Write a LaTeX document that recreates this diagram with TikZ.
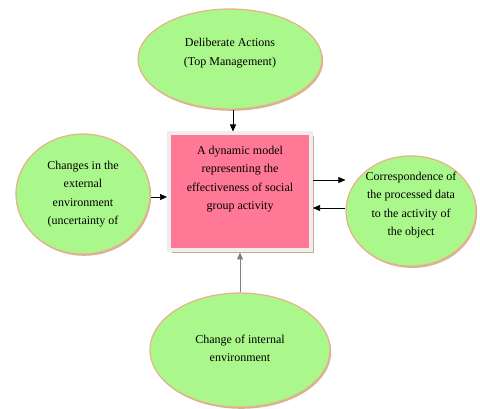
\documentclass[tikz,border=0pt]{standalone}
\usepackage{fontspec}
\setmainfont{Liberation Serif}
\usetikzlibrary{arrows.meta,positioning,shapes.geometric,shadows}
\definecolor{verde}{RGB}{170,248,140}
\definecolor{borde}{RGB}{232,178,138}
\definecolor{sombra}{RGB}{200,160,120}
\definecolor{rosa}{RGB}{255,120,150}
\definecolor{marco}{RGB}{238,238,238}

\begin{document}
\begin{tikzpicture}[x=1pt,y=-1pt,
  elipse/.style={ellipse, draw=borde, line width=1.2pt, fill=verde, align=center, inner sep=0pt,
    font=\fontsize{12}{18.5}\selectfont,
    drop shadow={shadow xshift=1.2pt, shadow yshift=-1.8pt, fill=sombra, opacity=0.8}},
  modelo/.style={rectangle, draw=marco, line width=4pt, fill=rosa, align=center,
    minimum width=142pt, minimum height=117pt, font=\fontsize{12}{18.5}\selectfont,
    drop shadow={shadow xshift=2.5pt, shadow yshift=-2.5pt, fill=sombra, opacity=0.9}},
  flecha/.style={-{Triangle[length=7pt,width=6pt]}, line width=0.6pt}
]
\useasboundingbox (0,0) rectangle (480,409);
\node[modelo, text depth=28pt] (din) at (240,192) {A dynamic model\\representing the\\effectiveness of social\\group activity};
\node[elipse, minimum width=184pt, minimum height=100pt, text depth=14pt] (del) at (230,59) {Deliberate Actions\\(Top Management)};
\node[elipse, minimum width=134pt, minimum height=120pt] (ext) at (83,194) {Changes in the\\external\\environment\\(uncertainty of};
\node[elipse, minimum width=130pt, minimum height=100pt, text depth=14pt] (obj) at (411,211) {Correspondence of\\the processed data\\to the activity of\\the object};
\node[elipse, minimum width=180pt, minimum height=114pt, text height=24pt] (int) at (240,350) {Change of internal\\environment};
\coordinate (dt) at ([xshift=3pt]del.south);
\draw[flecha] (dt) -- (dt |- din.north);
\draw[flecha] (ext.east |- 0,197) -- (din.west |- 0,197);
\draw[flecha] (din.east |- 0,180) -- (obj.west |- 0,180);
\draw[flecha] (obj.west |- 0,208) -- (din.east |- 0,208);
\draw[flecha, draw=gray] (int.north) -- (din.south -| int.north);
\end{tikzpicture}
\end{document}
